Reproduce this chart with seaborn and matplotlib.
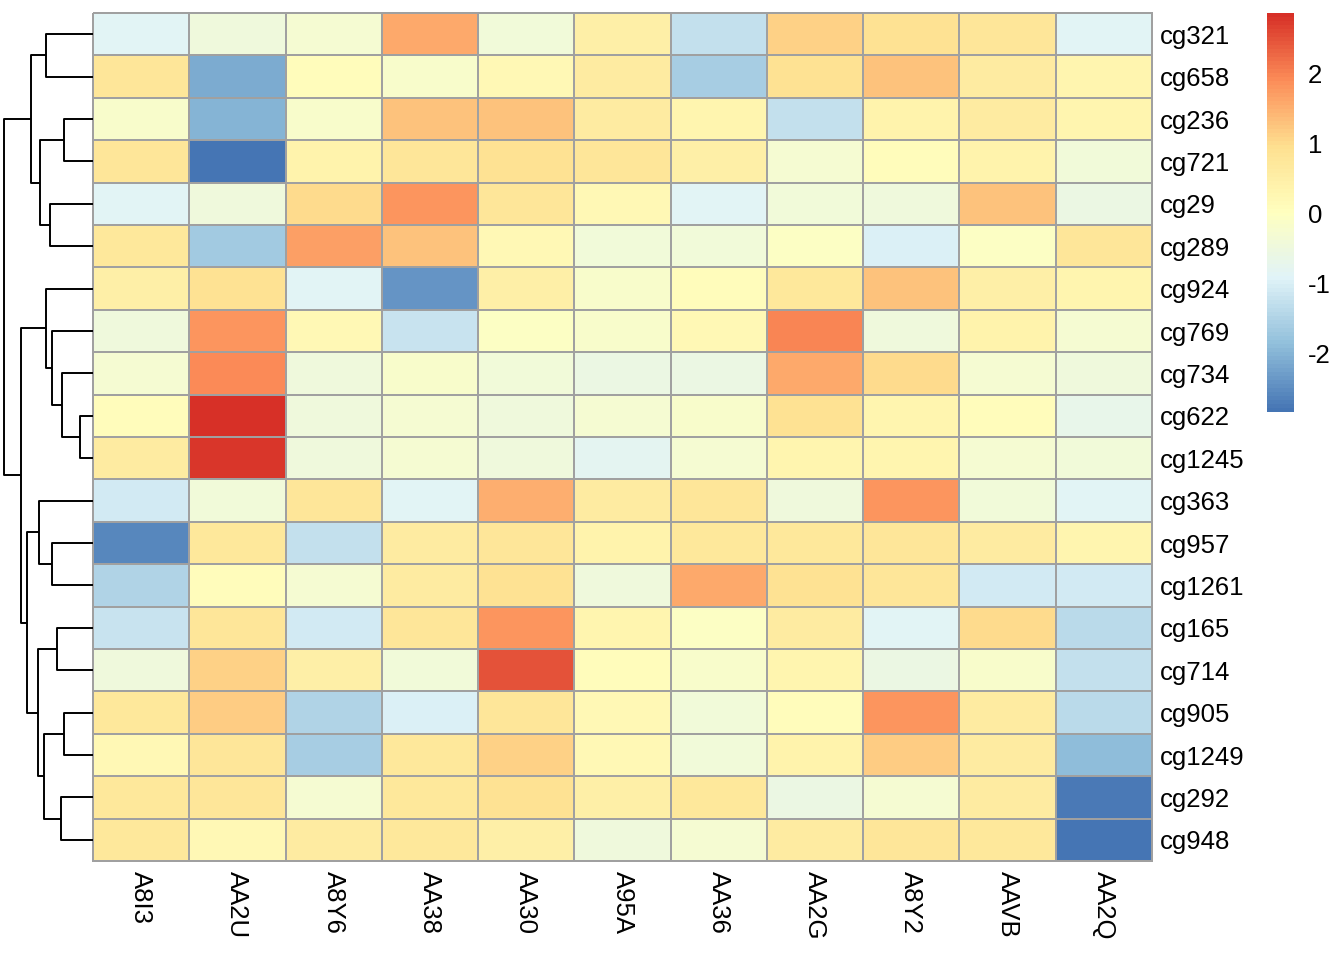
import matplotlib
matplotlib.use("Agg")
import matplotlib.pyplot as plt
import seaborn as sns
import numpy as np
import pandas as pd
from matplotlib.colors import LinearSegmentedColormap

# radky (poradi podle dendrogramu) a sloupce
rows = ["cg321", "cg658", "cg236", "cg721", "cg29", "cg289", "cg924", "cg769",
        "cg734", "cg622", "cg1245", "cg363", "cg957", "cg1261", "cg165", "cg714",
        "cg905", "cg1249", "cg292", "cg948"]
cols = ["A8I3", "AA2U", "A8Y6", "AA38", "AA30", "A95A", "AA36", "AA2G", "A8Y2", "AAVB", "AA2Q"]

# odhadnute hodnoty (z-skore)
values = [
    [-0.9, -0.5, -0.3,  1.6, -0.4,  0.5, -1.3,  1.1,  0.9,  0.8, -0.9],
    [ 0.8, -2.1,  0.1, -0.2,  0.2,  0.6, -1.6,  0.9,  1.3,  0.6,  0.3],
    [-0.2, -2.0, -0.2,  1.3,  1.3,  0.6,  0.3, -1.3,  0.4,  0.6,  0.3],
    [ 0.8, -2.8,  0.4,  0.8,  0.9,  0.8,  0.5, -0.3,  0.1,  0.4, -0.4],
    [-0.9, -0.5,  1.0,  1.8,  0.8,  0.2, -0.9, -0.4, -0.5,  1.3, -0.6],
    [ 0.7, -1.7,  1.7,  1.3,  0.2, -0.4, -0.4, -0.1, -1.0, -0.1,  0.8],
    [ 0.5,  0.9, -0.9, -2.4,  0.5, -0.2,  0.1,  0.7,  1.3,  0.5,  0.3],
    [-0.5,  1.8,  0.2, -1.2, -0.1, -0.2,  0.2,  2.0, -0.5,  0.4, -0.3],
    [-0.3,  1.9, -0.5, -0.2, -0.4, -0.6, -0.6,  1.6,  1.0, -0.3, -0.5],
    [ 0.1,  2.86, -0.5, -0.3, -0.5, -0.3, -0.2,  0.9,  0.3,  0.1, -0.7],
    [ 0.6,  2.8, -0.5, -0.3, -0.5, -0.8, -0.3,  0.3,  0.3, -0.3, -0.4],
    [-1.1, -0.4,  0.8, -0.9,  1.5,  0.6,  0.8, -0.5,  1.8, -0.4, -0.9],
    [-2.6,  0.7, -1.3,  0.6,  0.8,  0.4,  0.7,  0.7,  0.8,  0.6,  0.3],
    [-1.5,  0.1, -0.3,  0.6,  0.9, -0.5,  1.6,  0.9,  0.8, -1.1, -1.1],
    [-1.2,  0.8, -1.1,  0.8,  1.8,  0.3, -0.1,  0.6, -0.9,  1.0, -1.4],
    [-0.5,  1.1,  0.5, -0.4,  2.5,  0.1, -0.2,  0.3, -0.6, -0.2, -1.3],
    [ 0.7,  1.2, -1.5, -1.0,  0.8,  0.2, -0.4,  0.1,  1.8,  0.6, -1.4],
    [ 0.2,  0.8, -1.6,  0.7,  1.1,  0.2, -0.4,  0.4,  1.2,  0.6, -1.9],
    [ 0.7,  0.8, -0.3,  0.7,  0.9,  0.5,  0.7, -0.6, -0.3,  0.6, -2.75],
    [ 0.7,  0.2,  0.6,  0.7,  0.5, -0.5, -0.3,  0.6,  0.8,  0.7, -2.84],
]

# spojovani shluku: (levy uzel, pravy uzel, vyska); listy 0-19, nove uzly od 20
merges = [
    (0, 1, 47), (2, 3, 29), (4, 5, 43), (21, 22, 53), (20, 23, 62),
    (9, 10, 13), (8, 25, 31), (7, 26, 41), (6, 27, 47),
    (12, 13, 41), (11, 29, 54), (14, 15, 36), (16, 17, 29), (18, 19, 32),
    (32, 33, 49), (31, 34, 55), (30, 35, 66), (28, 36, 72), (24, 37, 89),
]

df = pd.DataFrame(values, index=rows, columns=cols)

# pheatmap paleta: rev(brewer.pal(7, "RdYlBu")), 100 barev
pal = ["#4575B4", "#91BFDB", "#E0F3F8", "#FFFFBF", "#FEE090", "#FC8D59", "#D73027"]
cmap = LinearSegmentedColormap.from_list("rdylbu", pal, N=100)

sns.set_theme(style="white")
plt.rcParams['font.family'] = ['Liberation Sans', 'DejaVu Sans']
plt.rcParams['axes.unicode_minus'] = False
plt.rcParams['xtick.color'] = 'black'
plt.rcParams['ytick.color'] = 'black'
plt.rcParams['text.color'] = 'black'

W, H = 1344, 960
fig = plt.figure(figsize=(W / 100, H / 100), dpi=100)

def px_axes(x0, y0, x1, y1):
    return fig.add_axes([x0 / W, 1 - y1 / H, (x1 - x0) / W, (y1 - y0) / H])

ax = px_axes(93, 13, 1152, 861)
cax = px_axes(1267, 13, 1294, 412)
dax = px_axes(0, 13, 93, 861)

sns.heatmap(df, ax=ax, cmap=cmap, vmin=df.values.min(), vmax=df.values.max(),
            linewidths=1.1, linecolor="#A0A0A0", cbar_ax=cax,
            xticklabels=cols, yticklabels=rows)
ax.collections[0].set_clip_on(False)

ax.yaxis.tick_right()
ax.tick_params(axis="both", length=0, labelsize=18.5, labelcolor="black")
ax.tick_params(axis="y", pad=6)
ax.tick_params(axis="x", pad=7)
plt.setp(ax.get_yticklabels(), rotation=0, ha="left")
plt.setp(ax.get_xticklabels(), rotation=270, ha="center", va="top")
ax.set_xlabel("")
ax.set_ylabel("")

cb = ax.collections[0].colorbar
cb.set_ticks([-2, -1, 0, 1, 2])
cb.outline.set_visible(False)
cax.tick_params(length=0, labelsize=18.5, pad=10, labelcolor="black")

# dendrogram radku
pos = {i: i + 0.5 for i in range(len(rows))}
hgt = {i: 0.0 for i in range(len(rows))}
for k, (a, b, h) in enumerate(merges):
    node = len(rows) + k
    dax.plot([hgt[a], h, h, hgt[b]], [pos[a], pos[a], pos[b], pos[b]],
             color="black", lw=1.4, solid_capstyle="butt")
    pos[node] = (pos[a] + pos[b]) / 2
    hgt[node] = h
dax.set_xlim(93, 0)
dax.set_ylim(len(rows), 0)
dax.axis("off")

fig.savefig("out.png", dpi=100)
